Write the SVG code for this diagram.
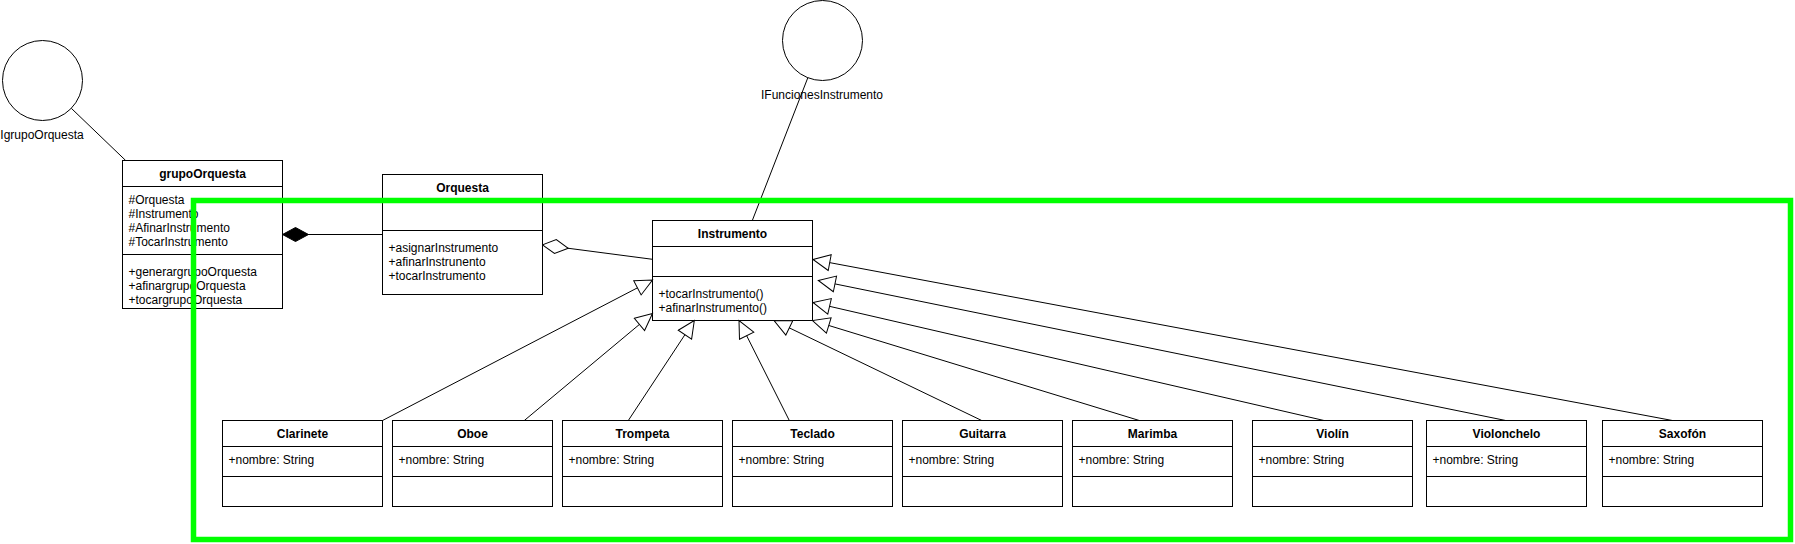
<svg xmlns="http://www.w3.org/2000/svg" width="1795" height="544" viewBox="0 0 1795 544">
<style>
.box{fill:#fff;stroke:#000;stroke-width:1}
.sep{stroke:#000;stroke-width:1;fill:none}
.t{font-family:"Liberation Sans",Arial,Helvetica,sans-serif;font-size:12px;fill:#000}
.h{font-weight:bold;text-anchor:middle}
.c{text-anchor:middle}
.edge{stroke:#000;stroke-width:1;fill:none}
.inh{marker-end:url(#tri)}
.hl{fill:none;stroke:#00ff00;stroke-width:5.5}
</style>
<defs>
<marker id="tri" markerUnits="userSpaceOnUse" viewBox="-1 -1 20 18" markerWidth="20" markerHeight="18" refX="17" refY="8" orient="auto">
<path d="M0,0 L17,8 L0,16 Z" fill="#fff" stroke="#000" stroke-width="1"/>
</marker>
<marker id="dfill" markerUnits="userSpaceOnUse" viewBox="-1 -1 28 16" markerWidth="28" markerHeight="16" refX="26" refY="7" orient="auto">
<path d="M0,7 L13,0 L26,7 L13,14 Z" fill="#000" stroke="#000" stroke-width="1"/>
</marker>
<marker id="dopen" markerUnits="userSpaceOnUse" viewBox="-1 -1 28 16" markerWidth="28" markerHeight="16" refX="26" refY="7" orient="auto">
<path d="M0,7 L13,0 L26,7 L13,14 Z" fill="#fff" stroke="#000" stroke-width="1"/>
</marker>
</defs>
<rect x="0" y="0" width="1795" height="544" fill="#fff"/>

<g id="IgrupoOrquesta">
<circle cx="42.5" cy="80.5" r="40" class="box"/>
<text x="42" y="139" class="t c">IgrupoOrquesta</text>
</g>

<g id="IFuncionesInstrumento">
<circle cx="822.5" cy="40.5" r="40" class="box"/>
<text x="822" y="99" class="t c">IFuncionesInstrumento</text>
</g>

<g id="grupoOrquesta">
<rect x="122.5" y="160.5" width="160" height="148" class="box"/>
<line x1="122.5" y1="186.5" x2="282.5" y2="186.5" class="sep"/>
<line x1="122.5" y1="254.5" x2="282.5" y2="254.5" class="sep"/>
<text x="202.5" y="177.7" class="t h">grupoOrquesta</text>
<text x="128.5" y="204.2" class="t">#Orquesta</text>
<text x="128.5" y="218.2" class="t">#Instrumento</text>
<text x="128.5" y="232.2" class="t">#AfinarInstrumento</text>
<text x="128.5" y="246.2" class="t">#TocarInstrumento</text>
<text x="128.5" y="275.7" class="t">+generargrupoOrquesta</text>
<text x="128.5" y="289.7" class="t">+afinargrupoOrquesta</text>
<text x="128.5" y="303.7" class="t">+tocargrupoOrquesta</text>
</g>

<g id="Orquesta">
<rect x="382.5" y="174.5" width="160" height="120" class="box"/>
<line x1="382.5" y1="200.5" x2="542.5" y2="200.5" class="sep"/>
<line x1="382.5" y1="230.5" x2="542.5" y2="230.5" class="sep"/>
<text x="462.5" y="191.7" class="t h">Orquesta</text>
<text x="388.5" y="251.7" class="t">+asignarInstrumento</text>
<text x="388.5" y="265.7" class="t">+afinarInstrunento</text>
<text x="388.5" y="279.7" class="t">+tocarInstrumento</text>
</g>

<g id="Instrumento">
<rect x="652.5" y="220.5" width="160" height="100" class="box"/>
<line x1="652.5" y1="246.5" x2="812.5" y2="246.5" class="sep"/>
<line x1="652.5" y1="276.5" x2="812.5" y2="276.5" class="sep"/>
<text x="732.5" y="237.7" class="t h">Instrumento</text>
<text x="658.5" y="297.7" class="t">+tocarInstrumento()</text>
<text x="658.5" y="311.7" class="t">+afinarInstrumento()</text>
</g>

<g id="Clarinete">
<rect x="222.5" y="420.5" width="160" height="86" class="box"/>
<line x1="222.5" y1="446.5" x2="382.5" y2="446.5" class="sep"/>
<line x1="222.5" y1="476.5" x2="382.5" y2="476.5" class="sep"/>
<text x="302.5" y="437.7" class="t h">Clarinete</text>
<text x="228.5" y="464.2" class="t">+nombre: String</text>
</g>

<g id="Oboe">
<rect x="392.5" y="420.5" width="160" height="86" class="box"/>
<line x1="392.5" y1="446.5" x2="552.5" y2="446.5" class="sep"/>
<line x1="392.5" y1="476.5" x2="552.5" y2="476.5" class="sep"/>
<text x="472.5" y="437.7" class="t h">Oboe</text>
<text x="398.5" y="464.2" class="t">+nombre: String</text>
</g>

<g id="Trompeta">
<rect x="562.5" y="420.5" width="160" height="86" class="box"/>
<line x1="562.5" y1="446.5" x2="722.5" y2="446.5" class="sep"/>
<line x1="562.5" y1="476.5" x2="722.5" y2="476.5" class="sep"/>
<text x="642.5" y="437.7" class="t h">Trompeta</text>
<text x="568.5" y="464.2" class="t">+nombre: String</text>
</g>

<g id="Teclado">
<rect x="732.5" y="420.5" width="160" height="86" class="box"/>
<line x1="732.5" y1="446.5" x2="892.5" y2="446.5" class="sep"/>
<line x1="732.5" y1="476.5" x2="892.5" y2="476.5" class="sep"/>
<text x="812.5" y="437.7" class="t h">Teclado</text>
<text x="738.5" y="464.2" class="t">+nombre: String</text>
</g>

<g id="Guitarra">
<rect x="902.5" y="420.5" width="160" height="86" class="box"/>
<line x1="902.5" y1="446.5" x2="1062.5" y2="446.5" class="sep"/>
<line x1="902.5" y1="476.5" x2="1062.5" y2="476.5" class="sep"/>
<text x="982.5" y="437.7" class="t h">Guitarra</text>
<text x="908.5" y="464.2" class="t">+nombre: String</text>
</g>

<g id="Marimba">
<rect x="1072.5" y="420.5" width="160" height="86" class="box"/>
<line x1="1072.5" y1="446.5" x2="1232.5" y2="446.5" class="sep"/>
<line x1="1072.5" y1="476.5" x2="1232.5" y2="476.5" class="sep"/>
<text x="1152.5" y="437.7" class="t h">Marimba</text>
<text x="1078.5" y="464.2" class="t">+nombre: String</text>
</g>

<g id="Violin">
<rect x="1252.5" y="420.5" width="160" height="86" class="box"/>
<line x1="1252.5" y1="446.5" x2="1412.5" y2="446.5" class="sep"/>
<line x1="1252.5" y1="476.5" x2="1412.5" y2="476.5" class="sep"/>
<text x="1332.5" y="437.7" class="t h">Violín</text>
<text x="1258.5" y="464.2" class="t">+nombre: String</text>
</g>

<g id="Violonchelo">
<rect x="1426.5" y="420.5" width="160" height="86" class="box"/>
<line x1="1426.5" y1="446.5" x2="1586.5" y2="446.5" class="sep"/>
<line x1="1426.5" y1="476.5" x2="1586.5" y2="476.5" class="sep"/>
<text x="1506.5" y="437.7" class="t h">Violonchelo</text>
<text x="1432.5" y="464.2" class="t">+nombre: String</text>
</g>

<g id="Saxofon">
<rect x="1602.5" y="420.5" width="160" height="86" class="box"/>
<line x1="1602.5" y1="446.5" x2="1762.5" y2="446.5" class="sep"/>
<line x1="1602.5" y1="476.5" x2="1762.5" y2="476.5" class="sep"/>
<text x="1682.5" y="437.7" class="t h">Saxofón</text>
<text x="1608.5" y="464.2" class="t">+nombre: String</text>
</g>

<g id="connectors">
<line x1="71.4" y1="108.4" x2="125.7" y2="160.5" class="edge"/>
<line x1="807.8" y1="77.8" x2="752.3" y2="220.5" class="edge"/>
<line x1="382.5" y1="234.5" x2="282.5" y2="234.5" class="edge" marker-end="url(#dfill)"/>
<line x1="652.5" y1="259.3" x2="542.5" y2="244.9" class="edge" marker-end="url(#dopen)"/>
<line x1="382.5" y1="420.5" x2="652.5" y2="280" class="edge inh"/>
<line x1="524.3" y1="420.5" x2="652.5" y2="313.5" class="edge inh"/>
<line x1="628.3" y1="420.5" x2="694.3" y2="320.5" class="edge inh"/>
<line x1="789.3" y1="420.5" x2="739" y2="320.5" class="edge inh"/>
<line x1="981.7" y1="420.5" x2="774" y2="320.5" class="edge inh"/>
<line x1="1139.3" y1="420.5" x2="812.5" y2="320.5" class="edge inh"/>
<line x1="1324" y1="420.5" x2="813" y2="302.5" class="edge inh"/>
<line x1="1505.7" y1="420.5" x2="818.3" y2="280.5" class="edge inh"/>
<line x1="1672.4" y1="420.5" x2="813" y2="259.5" class="edge inh"/>
</g>

<rect x="193.5" y="200.5" width="1597" height="339" class="hl"/>
</svg>
